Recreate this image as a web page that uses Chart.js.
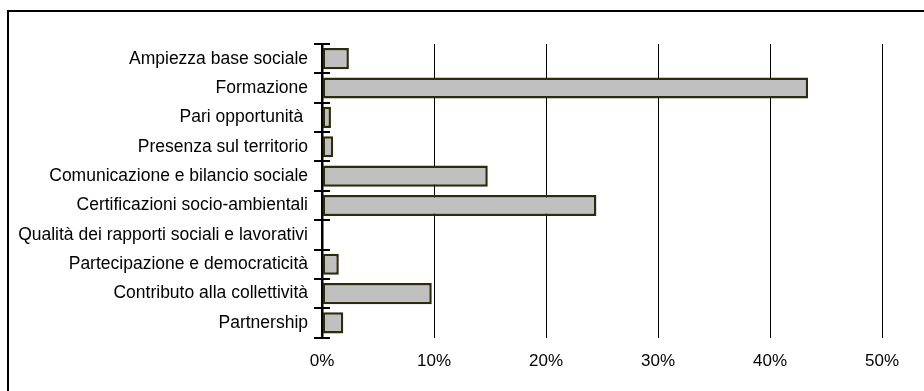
<!DOCTYPE html>
<html>
<head>
<meta charset="utf-8">
<script src="https://cdn.jsdelivr.net/npm/chart.js@4"></script>
<style>
  body { margin: 0; background: #fff; overflow: hidden; }
  #frame { position: absolute; left: 7px; top: 10px; width: 940px; height: 420px; border: 2px solid #000; box-sizing: border-box; }
  #chartWrap { position: absolute; left: 0; top: 0; width: 924px; height: 391px; }
</style>
</head>
<body>
<div id="frame"></div>
<div id="chartWrap"><canvas id="chartOne" width="924" height="391"></canvas></div>
<script>
const categories = [
  'Ampiezza base sociale',
  'Formazione',
  'Pari opportunità ',
  'Presenza sul territorio',
  'Comunicazione e bilancio sociale',
  'Certificazioni socio-ambientali',
  'Qualità dei rapporti sociali e lavorativi',
  'Partecipazione e democraticità',
  'Contributo alla collettività',
  'Partnership'
];
const values = [2.4, 43.4, 0.8, 1.0, 14.8, 24.5, 0, 1.5, 9.8, 1.9];
const xTicks = [0, 10, 20, 30, 40, 50];

const canvas = document.getElementById('chartOne');
const ctx = canvas.getContext('2d');

// ticks on the category axis cross the axis line (inner half)
const innerTicks = {
    id: 'innerTicks',
    afterDraw(chart) {
        const y = chart.scales.y;
        const c = chart.ctx;
        const n = y.ticks.length;
        const step = (y.bottom - y.top) / n;
        c.save();
        c.strokeStyle = '#000';
        c.lineWidth = 2;
        for (let i = 0; i <= n; i++) {
            const py = Math.round(y.top + i * step);
            c.beginPath();
            c.moveTo(y.right, py);
            c.lineTo(y.right + 8, py);
            c.stroke();
        }
        c.restore();
    }
};

let chart_one = new Chart(ctx, {
    type: 'bar',
    data: {
        labels: categories,
        datasets: [{
            data: values,
            backgroundColor: '#c0c0c0',
            borderColor: '#2b2b0e',
            borderWidth: 2.5,
            borderSkipped: false,
            barPercentage: 0.72,
            categoryPercentage: 1
        }]
    },
    options: {
        indexAxis: 'y',
        responsive: false,
        animation: false,
        layout: {
            padding: { top: 44, right: 42, bottom: 5, left: 0 }
        },
        plugins: {
            legend: { display: false },
            tooltip: { enabled: false }
        },
        scales: {
            x: {
                min: 0,
                max: 50,
                afterBuildTicks: (scale) => { scale.ticks = xTicks.map(v => ({ value: v })); },
                grid: { color: '#000', lineWidth: 1, tickLength: 0 },
                border: { display: false },
                ticks: {
                    padding: 14,
                    color: '#000',
                    font: { family: 'Liberation Sans, Arial', size: 17 },
                    callback: (v) => v + '%'
                }
            },
            y: {
                afterFit: (scale) => { scale.width = 322; },
                grid: { offset: true, drawOnChartArea: false, color: '#000', lineWidth: 2, tickLength: 8 },
                border: { display: true, color: '#000', width: 2.5 },
                ticks: {
                    padding: 6,
                    color: '#000',
                    font: { family: 'Liberation Sans, Arial', size: 17.5 }
                }
            }
        }
    },
    plugins: [innerTicks]
});
</script>
</body>
</html>
